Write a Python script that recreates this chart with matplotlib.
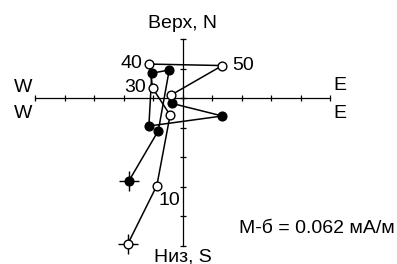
import numpy as np
import matplotlib.pyplot as plt

plt.rcParams['font.family'] = ['Liberation Sans', 'DejaVu Sans']

# vertical projection (open circles): E vs Up
open_x = [-1.86, -0.87, -0.42, -1.01, -1.13, 1.35, -0.39]
open_y = [-4.96, -2.97, -0.58, 0.33, 1.15, 1.10, 0.10]
# horizontal projection (filled circles): E vs N
fill_x = [-1.81, -0.82, -0.45, -1.04, -1.14, 1.35, -0.37]
fill_y = [-2.80, -1.11, 0.95, 0.84, -0.95, -0.61, -0.18]

# step labels on open points
step_labels = {1: '10', 3: '30', 4: '40', 5: '50'}

x_ticks = np.arange(-5, 6)
y_ticks = np.arange(-5, 3)

fig = plt.figure(figsize=(3.97, 2.64), dpi=100)
ax = fig.add_axes([0, 0, 1, 1])
scale = 29.5
ax.set_xlim(-182.5 / scale, (397 - 182.5) / scale)
ax.set_ylim((98 - 264) / scale, 98 / scale)
ax.axis('off')

# axes with ticks
ax.plot([x_ticks[0], x_ticks[-1]], [0, 0], color='black', linewidth=0.9)
ax.plot([0, 0], [y_ticks[0], y_ticks[-1]], color='black', linewidth=0.9)
ax.plot(x_ticks, np.zeros(len(x_ticks)), linestyle='none', marker='|', markersize=4.5, color='black', markeredgewidth=0.9)
ax.plot(np.zeros(len(y_ticks)), y_ticks, linestyle='none', marker='_', markersize=4.5, color='black', markeredgewidth=0.9)

# start crosses
ax.plot(open_x[0], open_y[0], marker='+', markersize=15, color='black', markeredgewidth=1)
ax.plot(fill_x[0], fill_y[0], marker='+', markersize=15, color='black', markeredgewidth=1)

ax.plot(fill_x, fill_y, color='black', linewidth=1.1, marker='o', markersize=6.3,
        markerfacecolor='black', markeredgecolor='black', zorder=3)
ax.plot(open_x, open_y, color='black', linewidth=1.1, marker='o', markersize=6.3,
        markerfacecolor='white', markeredgecolor='black', markeredgewidth=1, zorder=4)

fs = 14
for i, lab in step_labels.items():
    if lab == '50':
        ax.text(open_x[i] + 0.33, open_y[i], lab, fontsize=fs, ha='left', va='center')
    elif lab == '10':
        ax.text(open_x[i] + 0.05, open_y[i] - 0.22, lab, fontsize=fs, ha='left', va='top')
    else:
        ax.text(open_x[i] - 0.22, open_y[i] + 0.02, lab, fontsize=fs, ha='right', va='center')

ax.text(0, 2.54, 'Верх, N', fontsize=fs, ha='center', va='center')
ax.text(0, -5.38, 'Низ, S', fontsize=fs, ha='center', va='center')
ax.text(-5.41, 0.37, 'W', fontsize=fs, ha='center', va='center')
ax.text(-5.41, -0.51, 'W', fontsize=fs, ha='center', va='center')
ax.text(5.32, 0.44, 'E', fontsize=fs, ha='center', va='center')
ax.text(5.32, -0.51, 'E', fontsize=fs, ha='center', va='center')
ax.text(7.2, -4.41, 'М-б = 0.062 мА/м', fontsize=14, ha='right', va='center')

fig.savefig('out.png', dpi=100)
